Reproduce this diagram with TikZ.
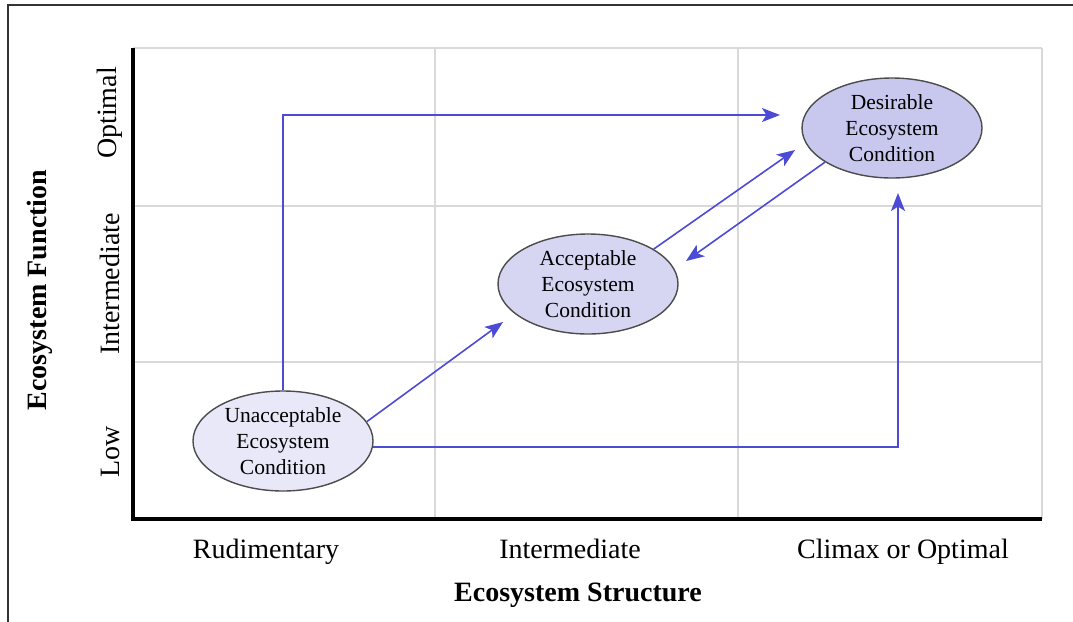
\documentclass[tikz,border=0pt]{standalone}
\usepackage{fontspec}
\setmainfont{Liberation Serif}
\usetikzlibrary{shapes,arrows.meta}

\definecolor{flowblue}{HTML}{4B4BD6}
\definecolor{lowfill}{HTML}{E8E8F8}
\definecolor{midfill}{HTML}{D6D6F2}
\definecolor{highfill}{HTML}{C8C8EE}

\begin{document}
\begin{tikzpicture}[x=0.5pt, y=-0.5pt, >={Stealth[length=9pt,width=7pt,inset=2.2pt]},
    cond/.style={ellipse, draw=black!70, line width=0.7pt, align=center, inner sep=0pt,
        minimum width=90pt, minimum height=50pt, font=\fontsize{10.75}{13}\selectfont},
    gridline/.style={black!15, line width=1pt},
    flow/.style={->, flowblue, line width=0.8pt},
    ticklabel/.style={font=\fontsize{14}{16}\selectfont},
    axistitle/.style={font=\fontsize{14}{16}\selectfont\bfseries}]
\useasboundingbox (0,0) rectangle (1073,622);
% frame
\draw[black!80, line width=1pt] (8,622) -- (8,5) -- (1073,5);
% grid
\foreach \x in {435,738,1042}
    \draw[gridline] (\x,48) -- (\x,519);
\foreach \y in {48,206,362}
    \draw[gridline] (133,\y) -- (1042,\y);
% axes
\draw[line width=2pt] (133,48) -- (133,519) -- (1042,519);
% y ticks
\node[ticklabel, rotate=90] (optimal) at (110,113) {Optimal};
\node[ticklabel, rotate=90] (yinter) at (110,284) {Intermediate};
\node[ticklabel, rotate=90] (low) at (110,452) {Low};
% x ticks
\node[ticklabel, anchor=base] (rudim) at (266,558) {Rudimentary};
\node[ticklabel, anchor=base] (xinter) at (570,558) {Intermediate};
\node[ticklabel, anchor=base] (climax) at (903,558) {Climax or Optimal};
% axis titles
\node[axistitle, rotate=90] (ytitle) at (40,290) {Ecosystem Function};
\node[axistitle, anchor=base] (xtitle) at (578,601) {Ecosystem Structure};

% conditions
\node[cond, fill=lowfill] (unacc) at (283,441) {Unacceptable\\Ecosystem\\Condition};
\node[cond, fill=midfill] (accept) at (588,284) {Acceptable\\Ecosystem\\Condition};
\node[cond, fill=highfill] (desir) at (892,128) {Desirable\\Ecosystem\\Condition};

% arrow tips
\coordinate (toptip) at (780,115);
\coordinate (righttip) at (898,193);
\coordinate (acctip) at (503,322);
\coordinate (destip) at (795,150);
\coordinate (backtip) at (686,261);

% flows
\draw[flow] (unacc.north) |- (toptip);
\draw[flow] (unacc.-4) -| (righttip);
\draw[flow] (unacc.13) -- (acctip);
\draw[flow] (accept.28) -- (destip);
\draw[flow] (desir.207) -- (backtip);
\end{tikzpicture}
\end{document}
